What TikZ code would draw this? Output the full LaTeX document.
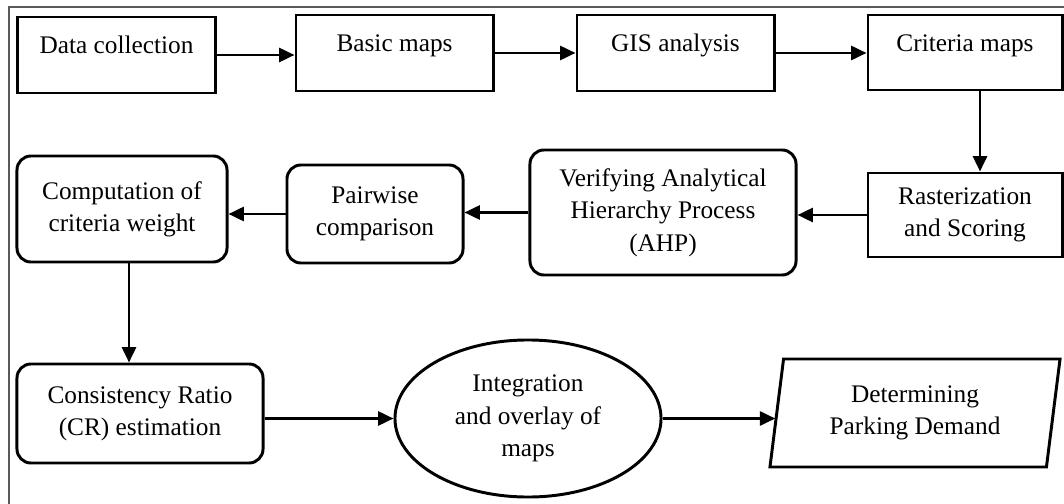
\documentclass[tikz,border=0pt]{standalone}
\usepackage{fontspec}
\setmainfont{Liberation Serif}
\usetikzlibrary{shapes.geometric,arrows.meta}

\begin{document}
\begin{tikzpicture}[x=0.025cm,y=-0.025cm]

        \useasboundingbox (0,0) rectangle (1064,504);
        \clip (0,0) rectangle (1064,504);
        \draw [black!65, line width=0.8pt] (9,520) -- (9,7) -- (1080,7);

        \begin{scope}[every node/.style={draw,line width=2.1pt,align=center,inner sep=0pt,font=\fontsize{18}{23}\selectfont}]
            % top row, text sits high in the box
            \node [minimum width=4.925cm,minimum height=1.9cm,text height=13.5pt,text depth=15pt] (dc) at (116.5,55) {Data collection};
            \node [minimum width=4.925cm,minimum height=1.9cm,text height=13.5pt,text depth=15pt] (bm) at (394.5,53) {Basic maps};
            \node [minimum width=4.925cm,minimum height=1.9cm,text height=13.5pt,text depth=15pt] (gis) at (675.5,53) {GIS analysis};
            \node [minimum width=4.85cm,minimum height=1.875cm,text height=13.5pt,text depth=15pt] (cm) at (965,52.5) {Criteria maps};

            % middle row
            \node [minimum width=4.85cm,minimum height=2.1cm] (rs) at (965,215) {Rasterization\\and Scoring};
            \node [rounded corners=0.35cm,minimum width=6.65cm,minimum height=3.125cm] (vahp) at (663,212.5) {Verifying Analytical\\Hierarchy Process\\(AHP)};
            \node [rounded corners=0.35cm,minimum width=4.4cm,minimum height=2.45cm] (pc) at (375,214) {Pairwise\\comparison};
            \node [rounded corners=0.35cm,minimum width=5.25cm,minimum height=2.65cm] (comp) at (122,209) {Computation of\\criteria weight};

            % bottom row
            \node [rounded corners=0.35cm,minimum width=6.15cm,minimum height=2.475cm] (cr) at (140,413.5) {Consistency Ratio\\(CR) estimation};
            \node [ellipse,minimum width=6.65cm,minimum height=3.925cm] (ell) at (528,418.5) {Integration\\and overlay of\\maps};
            \node [trapezium,trapezium left angle=76,trapezium right angle=104,trapezium stretches body,minimum width=7.25cm,minimum height=2.7cm] (pd) at (915,413) {Determining\\Parking Demand};
        \end{scope}

        \begin{scope}[line width=2pt, -{Triangle[length=11pt,width=10pt]}]
            \draw (dc.east) -- (dc.east -| bm.west);
            \draw (bm.east) -- (bm.east -| gis.west);
            \draw (gis.east) -- (gis.east -| cm.west);
            \draw ([xshift=0.375cm]cm.south) -- ([xshift=0.375cm]cm.south |- rs.north);

            \draw (rs.west) -- (rs.west -| vahp.east);
            \draw (vahp.west) -- (vahp.west -| pc.east);
            \draw (pc.west) -- (pc.west -| comp.east);
            \draw ([xshift=0.175cm]comp.south) -- ([xshift=0.175cm]comp.south |- cr.north);

            \draw (ell.west -| cr.east) -- (ell.west);
            \draw (ell.east) -- (ell.east -| pd.west);
        \end{scope}

    \end{tikzpicture}
\end{document}
